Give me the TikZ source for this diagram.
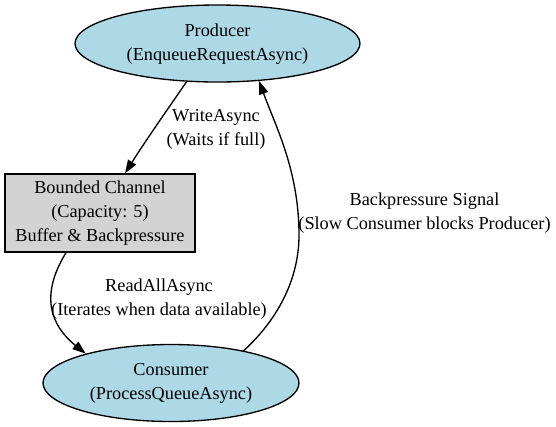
\documentclass[tikz,border=0pt]{standalone}
\usepackage{fontspec}
\setmainfont{Liberation Serif}
\usetikzlibrary{shapes.geometric,arrows.meta}
\definecolor{gvblue}{RGB}{173,216,230}
\definecolor{gvgray}{RGB}{211,211,211}
\newcommand{\gvlines}[1]{\raisebox{-2pt}{\begin{tabular}{@{}c@{}}#1\end{tabular}}}
\begin{document}
\begin{tikzpicture}[x=0.75pt,y=-0.75pt,
  every node/.style={font=\fontsize{13.7pt}{18pt}\selectfont},
  ellnode/.style={ellipse, draw=black, line width=1pt, fill=gvblue, inner sep=0pt},
  boxnode/.style={rectangle, draw=black, line width=1pt, fill=gvgray, inner sep=0pt,
    minimum width=142.5pt, minimum height=58.5pt},
  edgelabel/.style={inner sep=0pt},
  conn/.style={line width=1pt, -{Triangle[length=10pt,width=7pt]}}]
\useasboundingbox (0,0) rectangle (556,426);
\node[ellnode, minimum width=213.75pt, minimum height=57.75pt] (prod) at (217.5,43.5)
  {\gvlines{Producer\\(EnqueueRequestAsync)}};
\node[boxnode] (chan) at (100,213)
  {\gvlines{Bounded Channel\\(Capacity: 5)\\Buffer \& Backpressure}};
\node[ellnode, minimum width=192pt, minimum height=57.75pt] (cons) at (171,383)
  {\gvlines{Consumer\\(ProcessQueueAsync)}};
\node[edgelabel] (lw) at (216,129) {\gvlines{WriteAsync\\(Waits if full)}};
\node[edgelabel] (lr) at (159,299) {\gvlines{ReadAllAsync\\(Iterates when data available)}};
\node[edgelabel] (lb) at (424.5,213) {\gvlines{Backpressure Signal\\(Slow Consumer blocks Producer)}};
\draw[conn] (prod.231) .. controls (172,103) and (146,140) .. ([xshift=18.75pt]chan.north);
\draw[conn] ([xshift=-25.5pt]chan.south) .. controls (40,295) and (50,325) .. (cons.161.6);
\draw[conn] (cons.24.6) .. controls (272,325) and (299,285) .. (299,235)
  .. controls (299,170) and (275,125) .. (prod.-42.8);
\end{tikzpicture}
\end{document}
